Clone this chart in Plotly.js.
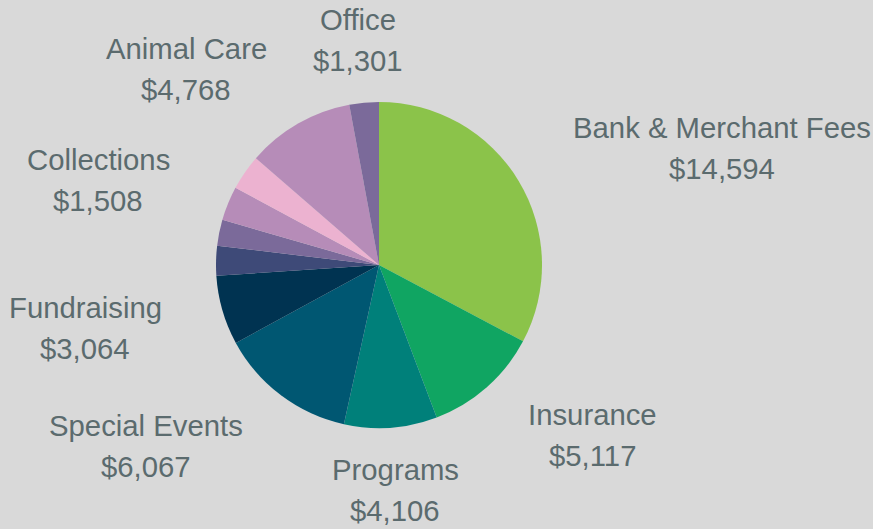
<!DOCTYPE html>
<html>
<head>
<meta charset="utf-8">
<script src="https://cdn.plot.ly/plotly-3.0.1.min.js"></script>
<style>
  html, body { margin: 0; padding: 0; background: #d9d9d9; }
  #chart { width: 873px; height: 529px; }
</style>
</head>
<body>
<div id="chart"></div>
<script>
// ---- data ----
const categories = ['Bank & Merchant Fees', 'Insurance', 'Programs', 'Special Events', 'Fundraising',
  'Dues & Subscriptions', 'Supplies', 'Collections', 'Marketing', 'Animal Care', 'Office'];
const expenses = [14594, 5117, 4106, 6067, 3064, 1310, 1150, 1508, 1570, 4768, 1301];
const hiddenLabels = ['Dues & Subscriptions', 'Supplies', 'Marketing'];

// ---- style ----
const sliceColors = ['#8bc34a', '#10a562', '#00807a', '#005772', '#003351',
  '#3e4a78', '#7b6a9a', '#b68cb8', '#ecb2d0', '#b68cb8', '#7b6a9a'];
const W = 873, H = 529, cx = 379, cy = 265, R = 163, LR = 226, LINE_GAP = 20.5;
const FONT_SIZE = 29.3, FONT_FAMILY = '"Liberation Sans", Arial, sans-serif', FONT_COLOR = '#5b6b6e';

const fmt = v => '$' + v.toLocaleString('en-US');

const canvas = document.createElement('canvas');
const ctx = canvas.getContext('2d');
ctx.font = FONT_SIZE + 'px ' + FONT_FAMILY;

const total = expenses.reduce((a, b) => a + b, 0);
const annotations = [];
let cum = 0;
categories.forEach((name, i) => {
  const v = expenses[i];
  const theta = (cum + v / 2) / total * 2 * Math.PI;
  cum += v;
  if (hiddenLabels.includes(name)) return;
  const s = Math.sin(theta), c = Math.cos(theta);
  const ax = cx + LR * s, ay = cy - LR * c;
  const valText = fmt(v);
  const w = Math.max(ctx.measureText(name).width, ctx.measureText(valText).width);
  let bx = ax;
  if (s > 0.3) bx = Math.min(ax + w / 2, W - 1 - w / 2);
  else if (s < -0.3) bx = ax - w / 2;
  const font = { family: FONT_FAMILY, size: FONT_SIZE, color: FONT_COLOR };
  annotations.push({ x: bx / W, y: 1 - (ay - LINE_GAP) / H, xref: 'paper', yref: 'paper',
    text: name, showarrow: false, xanchor: 'center', yanchor: 'middle', font });
  annotations.push({ x: bx / W, y: 1 - (ay + LINE_GAP) / H, xref: 'paper', yref: 'paper',
    text: valText, showarrow: false, xanchor: 'center', yanchor: 'middle', font });
});

const trace = {
  type: 'pie',
  labels: categories,
  values: expenses,
  sort: false,
  direction: 'clockwise',
  rotation: 0,
  textinfo: 'none',
  hoverinfo: 'label+value',
  marker: { colors: sliceColors, line: { width: 0 } },
  domain: { x: [(cx - R) / W, (cx + R) / W], y: [1 - (cy + R) / H, 1 - (cy - R) / H] }
};

const layout = {
  width: W, height: H,
  margin: { l: 0, r: 0, t: 0, b: 0 },
  paper_bgcolor: '#d9d9d9',
  plot_bgcolor: '#d9d9d9',
  showlegend: false,
  annotations
};

Plotly.newPlot('chart', [trace], layout, { displayModeBar: false, staticPlot: true });
</script>
</body>
</html>
